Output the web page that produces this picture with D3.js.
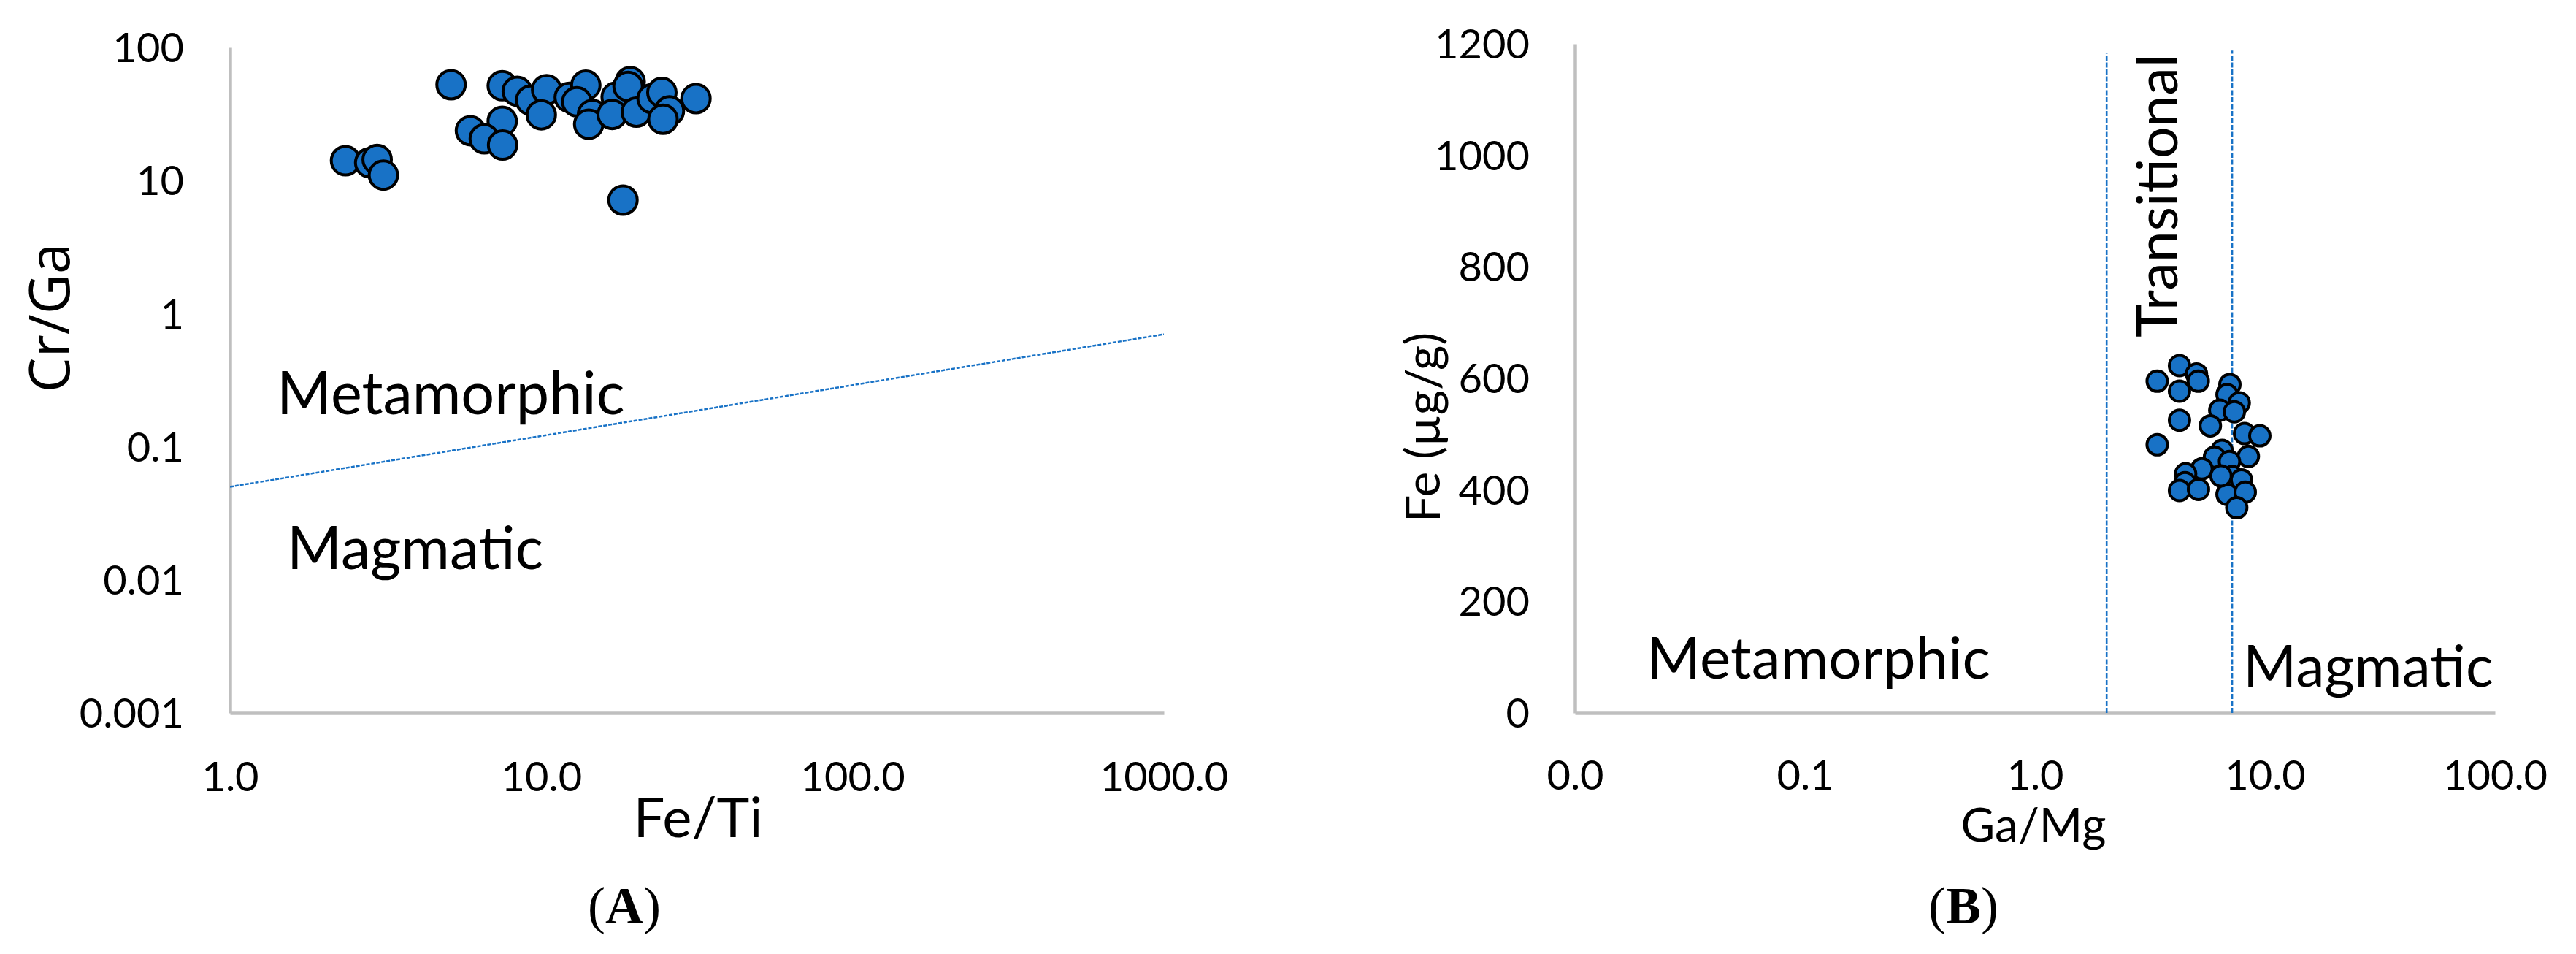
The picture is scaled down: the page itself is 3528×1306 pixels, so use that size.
<!DOCTYPE html>
<html>
<head>
<meta charset="utf-8">
<script src="https://cdn.jsdelivr.net/npm/d3@7"></script>
<style>
  body { margin: 0; background: #fff; }
  .lbl { font-family: Lato, "Open Sans", sans-serif; fill: #000; }
  .axis text { font-family: Lato, "Open Sans", sans-serif; font-size: 56px; fill: #000; }
  .axis path { stroke: #bfbfbf; stroke-width: 4.5; }
</style>
</head>
<body>
<div id="chart"></div>
<script>
// ---- data, panel A (Cr/Ga vs Fe/Ti) ----
var feTi = [2.35, 2.81, 2.97, 3.11, 5.13, 7.49, 8.37, 9.24, 10.4, 10.0,
            7.49, 5.92, 6.56, 7.51, 12.3, 13.9, 13.0, 14.6, 14.2, 17.4,
            16.9, 19.3, 19.0, 20.2, 22.7, 24.4, 25.8, 24.6, 31.4, 18.3];
var crGa = [14.1, 13.6, 14.4, 11.0, 52.5, 51.6, 46.9, 40.1, 48.2, 31.2,
            27.9, 23.7, 20.6, 18.5, 42.2, 52.1, 39.1, 31.4, 26.5, 42.5,
            31.4, 55.4, 51.0, 32.7, 41.3, 45.9, 33.4, 28.9, 41.3, 7.13];
var lineFeTi = [1, 1000];
var lineCrGa = [0.05, 0.7];
var ticksFeTi = [1, 10, 100, 1000];
var ticksCrGa = [100, 10, 1, 0.1, 0.01, 0.001];

// ---- data, panel B (Fe vs Ga/Mg) ----
var gaMg = [4.25, 5.04, 5.13, 3.40, 4.25, 4.25, 3.40, 7.04, 6.84, 7.73,
            6.36, 7.36, 5.79, 8.15, 9.50, 8.47, 6.51, 6.03, 7.01, 5.32,
            4.52, 4.49, 4.25, 5.14, 7.21, 7.91, 6.84, 8.21, 7.54, 6.44];
var fe = [623, 608, 595, 595, 577, 525, 481, 589, 571, 556,
          543, 540, 515, 501, 497, 460, 471, 459, 451, 438,
          429, 413, 399, 401, 424, 418, 392, 396, 368, 425];
var boundGaMg = [2.05, 7.2];
var boundFeTop = [1183, 1188];
var ticksGaMg = [0.01, 0.1, 1, 10, 100];
var ticksFe = [0, 200, 400, 600, 800, 1000, 1200];

var W = 3528, H = 1306;
var blue = '#1872c6';

var svg = d3.select('#chart').append('svg')
  .attr('width', W)
  .attr('height', H)
  .attr('viewBox', '0 0 ' + W + ' ' + H);

// ================= panel A =================
var xA = d3.scaleLog().domain([1, 1000]).range([315, 1594]);
var yA = d3.scaleLog().domain([0.001, 100]).range([976, 65]);

var gA = svg.append('g');

gA.append('g').attr('class', 'axis')
  .attr('transform', 'translate(0,976)')
  .call(d3.axisBottom(xA).tickValues(ticksFeTi).tickSize(0).tickFormat(d3.format('.1f')))
  .call(function(g) { g.selectAll('text').attr('y', 87).attr('dy', '0.35em'); });

gA.append('g').attr('class', 'axis')
  .attr('transform', 'translate(315,0)')
  .call(d3.axisLeft(yA).tickValues(ticksCrGa).tickSize(0).tickFormat(function(d) { return String(d); }))
  .call(function(g) { g.selectAll('text').attr('x', -63).attr('dy', '0.35em'); });

// boundary line
gA.append('line')
  .attr('x1', xA(lineFeTi[0])).attr('y1', yA(lineCrGa[0]))
  .attr('x2', xA(lineFeTi[1])).attr('y2', yA(lineCrGa[1]))
  .attr('stroke', blue).attr('stroke-width', 2.5)
  .attr('stroke-dasharray', '5,2');

gA.selectAll('circle.pa')
  .data(d3.zip(feTi, crGa))
  .enter().append('circle')
  .attr('class', 'pa')
  .attr('cx', function(d) { return xA(d[0]); })
  .attr('cy', function(d) { return yA(d[1]); })
  .attr('r', 19.5)
  .attr('fill', blue)
  .attr('stroke', '#000')
  .attr('stroke-width', 4);

gA.append('text').attr('class', 'lbl')
  .attr('x', 379).attr('y', 567)
  .style('font-size', '81px')
  .text('Metamorphic');

gA.append('text').attr('class', 'lbl')
  .attr('x', 393).attr('y', 779)
  .style('font-size', '81px')
  .text('Magmatic');

gA.append('text').attr('class', 'lbl')
  .attr('x', 956).attr('y', 1146)
  .attr('text-anchor', 'middle')
  .style('font-size', '76px')
  .text('Fe/Ti');

gA.append('text')
  .attr('transform', 'translate(95,435) rotate(-90)')
  .attr('text-anchor', 'middle')
  .style('font-family', '"Open Sans", sans-serif')
  .style('font-size', '76px')
  .text('Cr/Ga');

// ================= panel B =================
var xB = d3.scaleLog().domain([0.01, 100]).range([2157, 3417]);
var yB = d3.scaleLinear().domain([0, 1200]).range([976, 60]);

var gB = svg.append('g');

gB.append('g').attr('class', 'axis')
  .attr('transform', 'translate(0,976)')
  .call(d3.axisBottom(xB).tickValues(ticksGaMg).tickSize(0).tickFormat(d3.format('.1f')))
  .call(function(g) { g.selectAll('text').attr('y', 85).attr('dy', '0.35em'); });

gB.append('g').attr('class', 'axis')
  .attr('transform', 'translate(2157,0)')
  .call(d3.axisLeft(yB).tickValues(ticksFe).tickSize(0).tickFormat(d3.format('d')))
  .call(function(g) { g.selectAll('text').attr('x', -62).attr('dy', '0.35em'); });

gB.selectAll('line.bound')
  .data(d3.zip(boundGaMg, boundFeTop))
  .enter().append('line')
  .attr('class', 'bound')
  .attr('x1', function(d) { return xB(d[0]); })
  .attr('x2', function(d) { return xB(d[0]); })
  .attr('y1', yB(0))
  .attr('y2', function(d) { return yB(d[1]); })
  .attr('stroke', blue).attr('stroke-width', 2.6)
  .attr('stroke-dasharray', '7,2.5');

gB.selectAll('circle.pb')
  .data(d3.zip(gaMg, fe))
  .enter().append('circle')
  .attr('class', 'pb')
  .attr('cx', function(d) { return xB(d[0]); })
  .attr('cy', function(d) { return yB(d[1]); })
  .attr('r', 14)
  .attr('fill', blue)
  .attr('stroke', '#000')
  .attr('stroke-width', 4);

gB.append('text').attr('class', 'lbl')
  .attr('x', 2255).attr('y', 929)
  .style('font-size', '80px')
  .text('Metamorphic');

gB.append('text').attr('class', 'lbl')
  .attr('x', 3072).attr('y', 940)
  .style('font-size', '79px')
  .text('Magmatic');

gB.append('text').attr('class', 'lbl')
  .attr('transform', 'translate(2982,462) rotate(-90)')
  .style('font-size', '77px')
  .text('Transitional');

gB.append('text').attr('class', 'lbl')
  .attr('x', 2785).attr('y', 1152)
  .attr('text-anchor', 'middle')
  .style('font-size', '64px')
  .text('Ga/Mg');

gB.append('text').attr('class', 'lbl')
  .attr('transform', 'translate(1972,585) rotate(-90)')
  .attr('text-anchor', 'middle')
  .style('font-size', '66px')
  .text('Fe (µg/g)');

// ================= panel captions =================
function caption(x, letter) {
  var t = svg.append('text')
    .attr('x', x).attr('y', 1264)
    .attr('text-anchor', 'middle')
    .style('font-family', '"Liberation Serif", serif')
    .style('font-size', '72px');
  t.append('tspan').text('(');
  t.append('tspan').style('font-weight', 'bold').text(letter);
  t.append('tspan').text(')');
}
caption(855, 'A');
caption(2689, 'B');
</script>
</body>
</html>
